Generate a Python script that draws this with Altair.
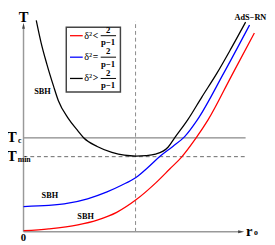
import altair as alt
import pandas as pd

# curves (r0, T) in chart units
black_r = [0.58, 0.80, 1.06, 1.37, 1.59, 2.04, 2.48, 2.74, 3.36, 4.03, 4.60, 5.13, 5.58, 6.02, 6.59, 6.90, 7.48, 8.14, 8.81, 9.47, 10.13]
black_T = [10.14, 9.07, 8.05, 6.98, 6.28, 5.44, 4.84, 4.51, 4.09, 3.81, 3.67, 3.63, 3.65, 3.72, 4.05, 4.51, 5.35, 6.47, 7.58, 8.79, 10.05]
blue_r = [0.0, 1.15, 2.04, 2.92, 3.81, 4.47, 5.13, 5.66, 6.24, 6.81, 7.35, 7.92, 9.12, 10.31]
blue_T = [1.21, 1.26, 1.37, 1.58, 1.91, 2.23, 2.60, 3.07, 3.63, 4.09, 4.56, 5.35, 7.58, 9.91]
red_r = [0.0, 1.15, 2.48, 3.36, 4.25, 5.13, 6.02, 6.68, 7.21, 7.88, 8.41, 9.47, 10.53]
red_T = [0.05, 0.14, 0.33, 0.56, 0.93, 1.53, 2.33, 3.02, 3.58, 4.51, 5.35, 7.44, 9.53]

series_names = ["red", "blue", "black"]
series_colors = ["#ff0000", "#0000ff", "#000000"]

Tc = 4.5
Tmin = 3.6
r_star = 5.11

XDOM = [-0.708, 11.106]
YDOM = [-0.465, 10.558]
FONT = "Liberation Serif"

rows = []
for name, rs, ts in [("black", black_r, black_T), ("blue", blue_r, blue_T), ("red", red_r, red_T)]:
    for r, t in zip(rs, ts):
        rows.append({"r": r, "T": t, "s": name})
curves_df = pd.DataFrame(rows)

xs = alt.Scale(domain=XDOM, nice=False, zero=False)
ys = alt.Scale(domain=YDOM, nice=False, zero=False)
X = lambda f="r": alt.X(f"{f}:Q", scale=xs, axis=None)
Y = lambda f="T": alt.Y(f"{f}:Q", scale=ys, axis=None)

def seg(df):
    return pd.DataFrame(df)

# axes lines
axes_df = seg([{"r": 0, "T": 0, "r2": 0, "T2": 9.8}, {"r": 0, "T": 0, "r2": 9.9, "T2": 0}])
axes = alt.Chart(axes_df).mark_rule(color="#999999", strokeWidth=1.5).encode(
    x=X(), y=Y(), x2="r2:Q", y2="T2:Q")
arrow_up = alt.Chart(seg([{"r": 0, "T": 9.85}])).mark_point(
    shape="M-0.35,0.6L0,-0.9L0.35,0.6Z", filled=True, color="#444444", size=70, opacity=1).encode(x=X(), y=Y())
arrow_right = alt.Chart(seg([{"r": 9.9, "T": 0}])).mark_point(
    shape="M-0.6,-0.35L0.9,0L-0.6,0.35Z", filled=True, color="#444444", size=70, opacity=1).encode(x=X(), y=Y())

# reference lines
tc_line = alt.Chart(seg([{"r": 0, "r2": 10.13, "T": Tc}])).mark_rule(color="#666666", strokeWidth=1).encode(
    x=X(), x2="r2:Q", y=Y())
tmin_line = alt.Chart(seg([{"r": 0, "r2": 10.22, "T": Tmin}])).mark_rule(
    color="#666666", strokeWidth=1, strokeDash=[4, 3]).encode(x=X(), x2="r2:Q", y=Y())
vline = alt.Chart(seg([{"r": r_star, "T": 0, "T2": 10.1}])).mark_rule(
    color="#888888", strokeWidth=1, strokeDash=[4, 3]).encode(x=X(), y=Y(), y2="T2:Q")

curves = alt.Chart(curves_df).mark_line(strokeWidth=1.3, interpolate="monotone").encode(
    x=X(), y=Y(),
    color=alt.Color("s:N", scale=alt.Scale(domain=series_names, range=series_colors), legend=None),
    detail="s:N")

def txt(items, size, color="black", align="center", baseline="middle", bold=True):
    return alt.Chart(pd.DataFrame(items)).mark_text(
        font=FONT, fontSize=size, fontWeight="bold" if bold else "normal",
        color=color, align=align, baseline=baseline).encode(x=X(), y=Y(), text="t:N")

labels_big = txt([
    {"r": 0.0, "T": 10.3, "t": "T"},
    {"r": -0.53, "T": 4.55, "t": "T"},
    {"r": -0.53, "T": 3.63, "t": "T"},
    {"r": 10.3, "T": 0.05, "t": "r"},
], 15)
labels_sub = txt([
    {"r": -0.17, "T": 4.35, "t": "c"},
    {"r": 0.03, "T": 3.43, "t": "min"},
    {"r": 10.6, "T": -0.08, "t": "o"},
], 8)
zero = txt([{"r": 0.0, "T": -0.28, "t": "0"}], 11)
sbh = txt([
    {"r": 0.86, "T": 6.75, "t": "SBH"},
    {"r": 1.2, "T": 1.76, "t": "SBH"},
    {"r": 2.83, "T": 0.75, "t": "SBH"},
    {"r": 10.35, "T": 10.3, "t": "AdS−RN"},
], 8.5)

# legend box
legend_box = alt.Chart(seg([{"r": 1.95, "r2": 4.42, "T": 9.81, "T2": 6.70}])).mark_rect(
    fill="white", stroke="#444444", strokeWidth=1.5).encode(x=X(), x2="r2:Q", y=Y(), y2="T2:Q")
row_T = [9.40, 8.37, 7.35]
rel = ["<", "=", ">"]
leg_lines = alt.Chart(pd.DataFrame(
    [{"r": 2.12, "r2": 2.70, "T": t, "s": s} for t, s in zip(row_T, series_names)])).mark_rule(strokeWidth=1.3).encode(
    x=X(), x2="r2:Q", y=Y(),
    color=alt.Color("s:N", scale=alt.Scale(domain=series_names, range=series_colors), legend=None))
leg_delta = txt([{"r": 2.95, "T": t, "t": "δ²"} for t in row_T], 10.5, bold=False)
leg_rel = txt([{"r": 3.28, "T": t, "t": s} for t, s in zip(row_T, rel)], 10)
leg_num = txt([{"r": 3.86, "T": t + 0.27, "t": "2"} for t in row_T], 9)
leg_den = txt([{"r": 3.86, "T": t - 0.31, "t": "p−1"} for t in row_T], 9)
leg_bar = alt.Chart(pd.DataFrame([{"r": 3.52, "r2": 4.22, "T": t} for t in row_T])).mark_rule(
    color="black", strokeWidth=1).encode(x=X(), x2="r2:Q", y=Y())

chart = alt.layer(
    vline, tc_line, tmin_line, axes, arrow_up, arrow_right, curves,
    legend_box, leg_lines, leg_delta, leg_rel, leg_num, leg_den, leg_bar,
    labels_big, labels_sub, zero, sbh,
).properties(width=267, height=237, padding=0, autosize="none").configure_view(stroke=None)

chart.save("out.html", embed_options={"renderer": "svg", "actions": False})
